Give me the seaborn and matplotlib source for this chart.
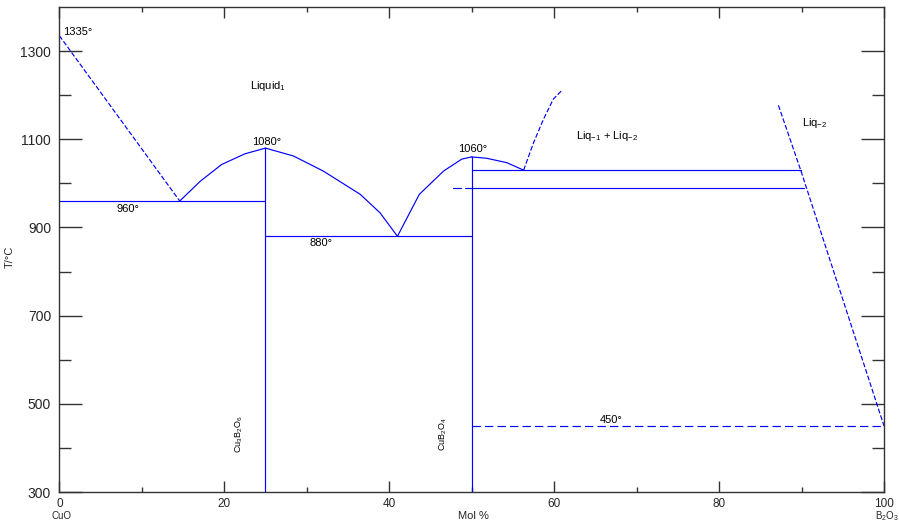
import matplotlib
matplotlib.use("Agg")
import matplotlib.pyplot as plt
from matplotlib import font_manager
import pandas as pd
import seaborn as sns

# phase boundaries, x = mol % B2O3, t = temperature in deg C
cuo_liq_x = [0, 14.6]
cuo_liq_t = [1335, 960]
cu3_rise_x = [14.6, 17.1, 19.7, 22.5, 25.0]
cu3_rise_t = [960, 1005, 1043, 1067, 1080]
cu3_fall_x = [25.0, 28.4, 32.0, 36.5, 38.9, 41.0]
cu3_fall_t = [1080, 1062, 1028, 975, 933, 880]
cub_rise_x = [41.0, 43.65, 46.6, 48.8, 50.0]
cub_rise_t = [880, 975, 1028, 1055, 1060]
cub_fall_x = [50.0, 51.8, 54.25, 56.3]
cub_fall_t = [1060, 1057, 1047, 1030]
gap_x = [56.3, 57.5, 58.7, 59.9, 61.0]
gap_t = [1030, 1092, 1145, 1191, 1212]
liq2_x = [87.2, 89.9, 100]
liq2_t = [1177, 1030, 450]

# isotherms: (x start, x end, temperature)
iso_960 = [0, 25, 960]
iso_880 = [25, 50, 880]
iso_1030 = [50, 89.9, 1030]
iso_990 = [49.2, 90.3, 990]
iso_990_stub = [47.7, 48.7, 990]
iso_450 = [50, 100, 450]

# compounds: (x, melting point)
cu3b2o6 = [25, 1080]
cub2o4 = [50, 1060]

x_ticks = [0, 20, 40, 60, 80, 100]
y_ticks = [300, 500, 700, 900, 1100, 1300]

BLUE = "#0000ff"
FRAME = "#333333"

sns.set_style("ticks")
names = {f.name for f in font_manager.fontManager.ttflist}
fam = "Liberation Sans Narrow" if "Liberation Sans Narrow" in names else "Liberation Sans"
plt.rcParams["font.family"] = [fam, "DejaVu Sans"]
plt.rcParams["lines.scale_dashes"] = False
plt.rcParams["mathtext.fontset"] = "custom"
plt.rcParams["mathtext.rm"] = fam

fig = plt.figure(figsize=(8.99, 5.26), dpi=100)
ax = fig.add_axes([0.066, 0.0646, 0.9173, 0.9221])


def draw(xs, ts, ls="-"):
    df = pd.DataFrame({"x": xs, "t": ts})
    sns.lineplot(data=df, x="x", y="t", sort=False, estimator=None,
                 color=BLUE, lw=0.85, linestyle=ls, ax=ax)


short_dash = (0, (3.5, 1.5))
draw(cuo_liq_x, cuo_liq_t, short_dash)
draw(cu3_rise_x, cu3_rise_t)
draw(cu3_fall_x, cu3_fall_t)
draw(cub_rise_x, cub_rise_t)
draw(cub_fall_x, cub_fall_t)
draw(gap_x, gap_t, short_dash)
draw(liq2_x, liq2_t, short_dash)

for seg in [iso_960, iso_880, iso_1030, iso_990, iso_990_stub]:
    draw(seg[:2], [seg[2], seg[2]])
draw(iso_450[:2], [iso_450[2], iso_450[2]], (0, (6, 3)))

for comp in [cu3b2o6, cub2o4]:
    draw([comp[0], comp[0]], [300, comp[1]])

ax.set_xlim(0, 100)
ax.set_ylim(300, 1400)
ax.set_xticks(x_ticks)
ax.set_xticks(range(10, 100, 20), minor=True)
ax.set_yticks(y_ticks)
ax.set_yticks(range(400, 1400, 200), minor=True)
ax.tick_params(axis="x", which="major", direction="in", length=8, width=1,
               top=True, color=FRAME, labelsize=8.5, pad=4)
ax.tick_params(axis="x", which="minor", direction="in", length=3.6, width=1,
               top=True, color=FRAME)
ax.tick_params(axis="y", which="major", direction="in", length=16.5, width=1,
               right=True, color=FRAME, labelsize=10, pad=6)
ax.tick_params(axis="y", which="minor", direction="in", length=8.6, width=1,
               right=True, color=FRAME)
for s in ax.spines.values():
    s.set_color(FRAME)
    s.set_linewidth(1.0)

ax.set_xlabel("Mol %", fontsize=8)
ax.xaxis.set_label_coords(0.502, -0.039)
ax.set_ylabel("T/°C", fontsize=8)
ax.yaxis.set_label_coords(-0.054, 0.485)

xt = ax.get_xaxis_transform()
ax.text(0.3, -0.05, "CuO", transform=xt, fontsize=7, ha="center", va="center")
ax.text(100.3, -0.05, "B$_2$O$_3$", transform=xt, fontsize=7, ha="center", va="center")

txt = dict(fontsize=8, color="black")
ax.text(0.4, 1344, "1335°", ha="left", va="center", **txt)
ax.text(23.15, 1220, "Liquid$_1$", ha="left", va="center", **txt)
ax.text(25.1, 1093, "1080°", ha="center", va="center", **txt)
ax.text(8.3, 943, "960°", ha="center", va="center", **txt)
ax.text(31.7, 865, "880°", ha="center", va="center", **txt)
ax.text(50.1, 1077, "1060°", ha="center", va="center", **txt)
ax.text(66.4, 1107, "Liq$_{-1}$ + Liq$_{-2}$", ha="center", va="center", **txt)
ax.text(90.0, 1136, "Liq$_{-2}$", ha="left", va="center", **txt)
ax.text(66.95, 464, "450°", ha="center", va="center", **txt)
ax.text(21.8, 432, "Cu$_3$B$_2$O$_6$", rotation=90, ha="center", va="center",
        fontsize=6.5, color="black")
ax.text(46.6, 432, "CuB$_2$O$_4$", rotation=90, ha="center", va="center",
        fontsize=6.5, color="black")

fig.savefig("out.png", dpi=100)
